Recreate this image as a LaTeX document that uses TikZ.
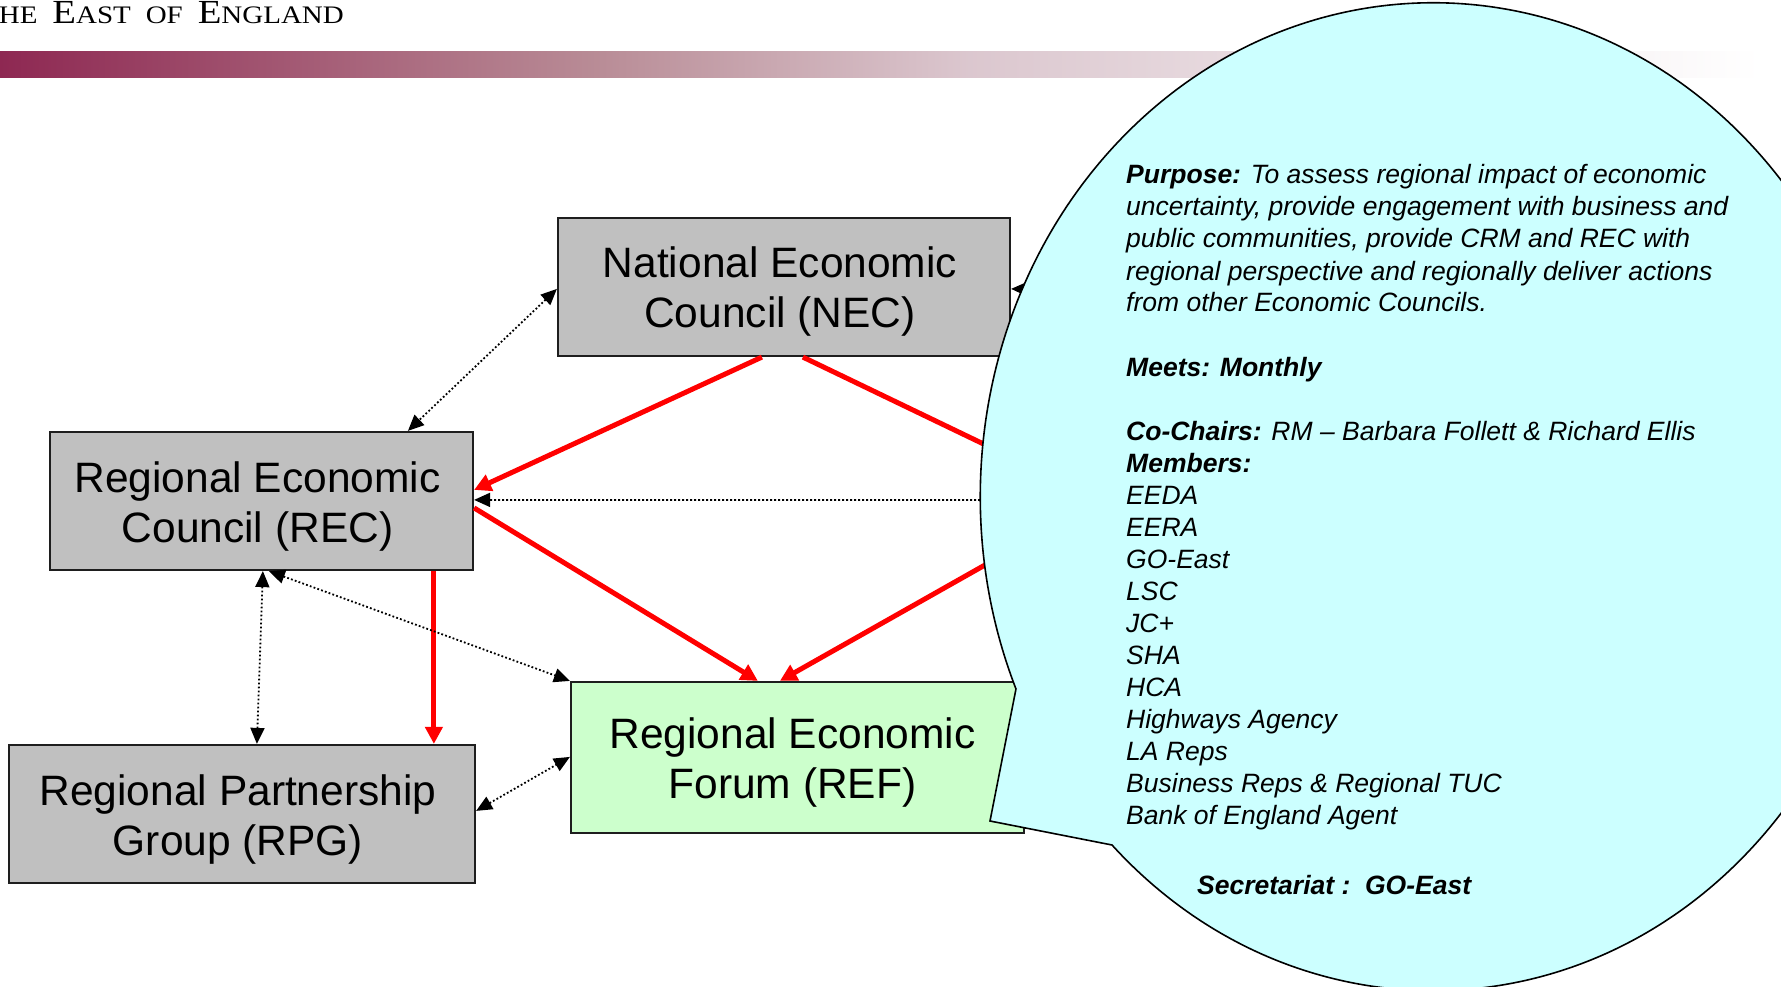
\documentclass[tikz,border=0pt]{standalone}
\usepackage{fontspec}
\setmainfont{Liberation Sans}
\newfontfamily\serifhdr{Liberation Serif}
\usetikzlibrary{arrows.meta,calc}
\definecolor{boxgray}{RGB}{192,192,192}
\definecolor{refgreen}{RGB}{204,255,204}
\definecolor{bubcyan}{RGB}{204,255,255}
\definecolor{arrred}{RGB}{255,0,0}
\definecolor{edgecol}{RGB}{30,30,30}
\pgfdeclarehorizontalshading{hdrbar}{100bp}{rgb(0bp)=(.557,.157,.322); rgb(25bp)=(.557,.157,.322); rgb(42bp)=(.725,.55,.59); rgb(52.5bp)=(.86,.78,.81); rgb(75bp)=(1,1,1); rgb(100bp)=(1,1,1)}
\newcommand\hdrbig[1]{{\fontsize{33.7}{34}\selectfont #1}}
\newcommand\hdrsmall[1]{{\fontsize{25.2}{26}\selectfont #1}}
\newcommand\hdrgap{\hspace*{13pt}}
\begin{document}
\begin{tikzpicture}[x=1pt,y=-1pt,
  box/.style={draw=edgecol, line width=2.2pt, fill=boxgray, inner sep=0pt},
  boxtxt/.style={align=center, font=\fontsize{42.5}{50}\selectfont, inner sep=0pt},
  redarr/.style={draw=arrred, line width=5pt, -{Triangle[length=17pt,width=17pt]}},
  redline/.style={draw=arrred, line width=5pt},
  dotarr/.style={draw=black, line width=1.8pt, dash pattern=on 1.8pt off 2.2pt,
    {Triangle[length=16pt,width=14pt]}-{Triangle[length=16pt,width=14pt]}},
  dotone/.style={draw=black, line width=1.8pt, dash pattern=on 1.8pt off 2.2pt,
    -{Triangle[length=16pt,width=14pt]}},
  bubtxt/.style={anchor=base west, inner sep=0pt, font=\fontsize{26.5}{32}\selectfont\itshape}]
\useasboundingbox (0,0) rectangle (1781,987);
\clip (0,0) rectangle (1781,987);
\fill[white] (0,0) rectangle (1781,987);

% header
\node[anchor=base east, inner sep=0pt] (hdr) at (344,24) {\serifhdr\scalebox{1.15}[1]{\hdrbig{T}\hdrsmall{HE}\hdrgap\hdrbig{E}\hdrsmall{AST}\hdrgap\hdrsmall{OF}\hdrgap\hdrbig{E}\hdrsmall{NGLAND}}};
\shade[shading=hdrbar] (0,52) rectangle (1760,78);

% boxes
\node[box, minimum width=452pt, minimum height=138pt] (nec) at (784,287) {};
\node[box, minimum width=423pt, minimum height=138pt] (rec) at (261.5,501) {};
\node[box, minimum width=466pt, minimum height=138pt] (rpg) at (242,814) {};
\node[box, fill=refgreen, minimum width=453pt, minimum height=151pt] (ref) at (797.5,757.5) {};
\node[boxtxt] (nect) at ($(nec.center)+(-4,5)$) {National Economic\\Council (NEC)};
\node[boxtxt] (rect) at ($(rec.center)+(-4,5)$) {Regional Economic\\Council (REC)};
\node[boxtxt] (rpgt) at ($(rpg.center)+(-4,6)$) {Regional Partnership\\Group (RPG)};
\node[boxtxt] (reft) at ($(ref.center)+(-5,5)$) {Regional Economic\\Forum (REF)};

% hidden ends behind the bubble
\coordinate (hid) at (1100,500);
\coordinate (hidtop) at (1100,290);

% connectors
\draw[dotarr] ($(nec.north west)+(0,72)$) -- ($(rec.north west)+(359,0)$);
\draw[redarr] ($(nec.south west)+(205,0)$) -- ($(rec.north east)+(0,59)$);
\draw[redline] ($(nec.south west)+(246,0)$) -- (hid);
\draw[dotone] (hid) -- ($(rec.north east)+(0,69)$);
\draw[dotone] (hidtop) -- ($(nec.north east)+(0,72)$);
\draw[redarr] ($(rec.north east)+(0,77)$) -- ($(ref.north west)+(188,0)$);
\draw[redarr] (hid) -- ($(ref.north west)+(210,0)$);
\draw[redarr] ($(rec.south west)+(385,0)$) -- ($(rpg.north west)+(426,0)$);
\draw[dotarr] ($(rec.south west)+(214,0)$) -- ($(rpg.north west)+(249,0)$);
\draw[dotarr] ($(rec.south west)+(220,0)$) -- (ref.north west);
\draw[dotarr] ($(rpg.north east)+(0,67)$) -- ($(ref.north west)+(0,76)$);

% callout bubble
\draw[fill=bubcyan, draw=black, line width=1.6pt] (1112,845) arc[start angle=224.83, end angle=562.9, x radius=453pt, y radius=494pt] -- (990,821) -- cycle;

% bubble text
\foreach \i/\t in {
 0/{\textbf{Purpose:} To assess regional impact of economic},
 1/{uncertainty, provide engagement with business and},
 2/{public communities, provide CRM and REC with},
 3/{regional perspective and regionally deliver actions},
 4/{from other Economic Councils.},
 6/{\textbf{Meets: Monthly}},
 8/{\textbf{Co-Chairs:} RM – Barbara Follett \& Richard Ellis},
 9/{\textbf{Members:}},
 10/{EEDA},
 11/{EERA},
 12/{GO-East},
 13/{LSC},
 14/{JC+},
 15/{SHA},
 16/{HCA},
 17/{Highways Agency},
 18/{LA Reps},
 19/{Business Reps \& Regional TUC},
 20/{Bank of England Agent}}
 \node[bubtxt] (bt\i) at (1126,{184+32*\i}) {\t};
\node[bubtxt] (sec) at (1197,894) {\textbf{Secretariat :\ \ GO-East}};
\end{tikzpicture}
\end{document}
